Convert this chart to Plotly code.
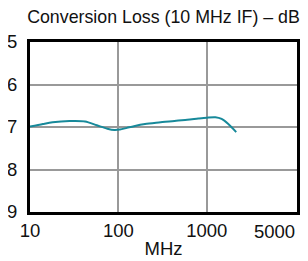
import plotly.graph_objects as go

# Data
freq_mhz = [10, 14, 18, 28, 42, 57, 75, 90, 104, 125, 150, 200, 300, 450, 600, 800, 1000, 1250, 1470, 1750, 2150]
loss_db = [6.99, 6.93, 6.89, 6.86, 6.87, 6.96, 7.04, 7.07, 7.06, 7.02, 6.98, 6.93, 6.89, 6.85, 6.83, 6.80, 6.78, 6.77, 6.81, 6.93, 7.12]

x_tick_vals = [10, 100, 1000]
x_tick_text = ["10", "100", "1000"]
x_end_label = "5000"
y_tick_vals = [5, 6, 7, 8, 9]

title_text = "Conversion Loss (10 MHz IF) – dB"
x_title = "MHz"

FONT = "Liberation Sans, Arial, sans-serif"
FS = 18.5
TITLE_FS = 17.8

# page body has an 8px default margin, so the figure is drawn offset by 8px
W, H = 300, 253

fig = go.Figure()
fig.add_trace(go.Scatter(
    x=freq_mhz, y=loss_db, mode="lines",
    line=dict(color="#17899a", width=2, shape="spline", smoothing=0.8),
    hoverinfo="skip", showlegend=False,
))

fig.update_layout(
    width=W, height=H,
    margin=dict(l=22, r=11, t=34, b=49, autoexpand=False),
    paper_bgcolor="white", plot_bgcolor="white",
    font=dict(family=FONT, size=FS, color="#111"),
    title=dict(text=title_text, x=155.5 / W, xanchor="center", y=1 - 9 / H, yanchor="middle",
               font=dict(family=FONT, size=TITLE_FS, color="#111")),
    xaxis=dict(
        type="log", range=[1, 4.02],
        tickvals=x_tick_vals, ticktext=x_tick_text,
        showgrid=True, gridcolor="#999", gridwidth=1.5,
        showline=True, linecolor="black", linewidth=3, mirror=True,
        ticks="", ticklabelstandoff=0, automargin=False,
        title=dict(text=x_title, standoff=2, font=dict(size=FS)),
        zeroline=False,
    ),
    yaxis=dict(
        range=[9, 5], tickvals=y_tick_vals,
        showgrid=True, gridcolor="#999", gridwidth=1.5,
        showline=True, linecolor="black", linewidth=3, mirror=True,
        ticks="", ticklabelstandoff=6, automargin=False,
        zeroline=False,
    ),
    annotations=[dict(
        text=x_end_label, xref="paper", yref="paper", x=1.0, y=0,
        xanchor="right", yanchor="top", yshift=-7, showarrow=False,
        font=dict(family=FONT, size=FS, color="#111"),
    )],
)

fig.write_html("out.html")
